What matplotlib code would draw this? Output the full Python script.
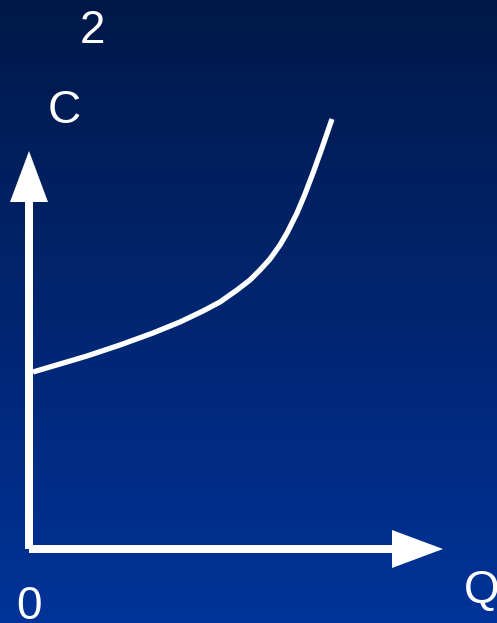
import numpy as np
import matplotlib.pyplot as plt
from matplotlib.colors import LinearSegmentedColormap

# cost curve (Q, C), origin at the axes corner
q_vals = [4, 58, 91, 124, 151, 174, 191, 208, 221, 231, 241, 251, 258, 268, 276, 284, 293, 303]
c_vals = [177, 193, 204, 216, 227, 238, 247, 259, 269, 279, 290, 304, 316, 336, 355, 376, 401, 430]

c_axis_len = 398
q_axis_len = 414
labels = {'2': (63, 506), 'C': (35, 426), '0': (-0.5, -70)}
q_label = (435, -54)

bg_top    = '#001848'
bg_bottom = '#003399'


def main():
    fig = plt.figure(figsize=(4.97, 6.23), dpi=100)
    ax = fig.add_axes([0, 0, 1, 1])
    x0, x1, y0, y1 = -29, 468, -74, 549
    ax.set_xlim(x0, x1)
    ax.set_ylim(y0, y1)
    ax.axis('off')

    cmap = LinearSegmentedColormap.from_list('bg', [bg_bottom, bg_top])
    grad = np.linspace(0, 1, 256).reshape(-1, 1)
    ax.imshow(grad, cmap=cmap, aspect='auto', origin='lower',
              extent=(x0, x1, y0, y1), zorder=0)

    ax.arrow(0, 0, 0, c_axis_len, width=8, head_width=38, head_length=51,
             length_includes_head=True, color='white', lw=0, zorder=2)
    ax.arrow(0, 0, q_axis_len, 0, width=8, head_width=38, head_length=51,
             length_includes_head=True, color='white', lw=0, zorder=2)

    ax.plot(q_vals, c_vals, color='white', lw=3.8, solid_capstyle='butt',
            solid_joinstyle='round', zorder=3)

    font = dict(color='white', fontsize=33, family='Liberation Sans', va='baseline')
    for txt, (x, y) in labels.items():
        ax.text(x, y, txt, ha='center', **font)
    ax.text(q_label[0], q_label[1], 'Q', ha='left', **font)

    fig.savefig('out.png', dpi=100)


if __name__ == '__main__':
    main()
